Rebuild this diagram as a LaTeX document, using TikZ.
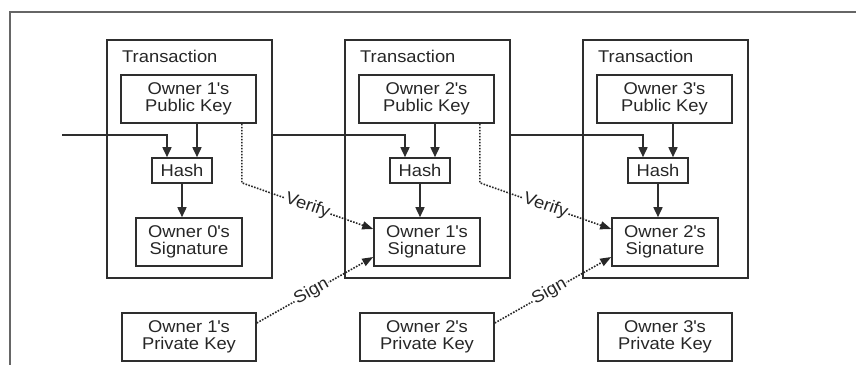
\documentclass[tikz,border=0pt]{standalone}
\usepackage{fontspec}
\setmainfont{Liberation Sans}[FakeStretch=1.08]
\usetikzlibrary{arrows.meta,calc}

\newcommand\apos{\textquotesingle}

\begin{document}
\begin{tikzpicture}[x=1pt,y=-1pt,
  txt/.style={font=\fontsize{17}{17}\selectfont, text=black!85},
  ink/.style={draw=black!82, line width=1.6pt},
  box/.style={ink, txt, inner sep=0pt, align=center},
  title/.style={txt, anchor=west, inner sep=0pt},
  frame/.style={draw=black!60, line width=1.2pt},
  arr/.style={ink, -{Triangle[length=10pt,width=9pt]}},
  dotarr/.style={draw=black!85, line width=1.6pt, dash pattern=on 1.6pt off 1.4pt,
                 -{Triangle[length=11pt,width=8pt]}},
  lbl/.style={txt, sloped, fill=white, inner sep=1pt}
]
\useasboundingbox (0,0) rectangle (856,365);
% page frame
\draw[frame] (856,12) -- (10,12) -- (10,365);

% three transactions, each with its keys
\foreach \k/\n in {0/1,1/2,2/3} {
  \pgfmathsetmacro\dx{238*\k}
  \node[box, minimum width=165pt, minimum height=238pt] (tx\k) at (189.5+\dx,159) {};
  \node[title] (tt\k) at (122+\dx,56) {Transaction};
  \node[box, minimum width=135pt, minimum height=48pt] (p\k) at (188.5+\dx,99) {Owner \n\apos s\\Public Key};
  \node[box, minimum width=60pt, minimum height=25pt] (h\k) at (182+\dx,170.5) {Hash};
  \node[box, minimum width=106pt, minimum height=48pt] (s\k) at (189+\dx,242) {Owner \k\apos s\\Signature};
  \node[box, minimum width=134pt, minimum height=48pt] (r\k) at (189+\dx,337) {Owner \n\apos s\\Private Key};
}

% hash inputs: previous transaction and next owner's public key
\coordinate (in) at (62,135);
\draw[arr] (in) -| ([xshift=-15pt]h0.north);
\draw[arr] (tx0.east |- in) -| ([xshift=-15pt]h1.north);
\draw[arr] (tx1.east |- in) -| ([xshift=-15pt]h2.north);
\foreach \k in {0,1,2} {
  \draw[arr] ([xshift=15pt]h\k.north |- p\k.south) -- ([xshift=15pt]h\k.north);
  \draw[arr] (h\k.south) -- (h\k.south |- s\k.north);
}

% verify and sign links
\foreach \k/\n in {0/1,1/2} {
  \draw[dotarr] ([xshift=-15pt]p\k.south east) -- ++(0,59)
     -- node[lbl, pos=0.5] {Verify} ([yshift=13pt]s\n.west);
  \draw[dotarr] ([yshift=14pt]r\k.east)
     -- node[lbl, pos=0.47] {Sign} ([yshift=-15pt]s\n.west);
}
\end{tikzpicture}
\end{document}
